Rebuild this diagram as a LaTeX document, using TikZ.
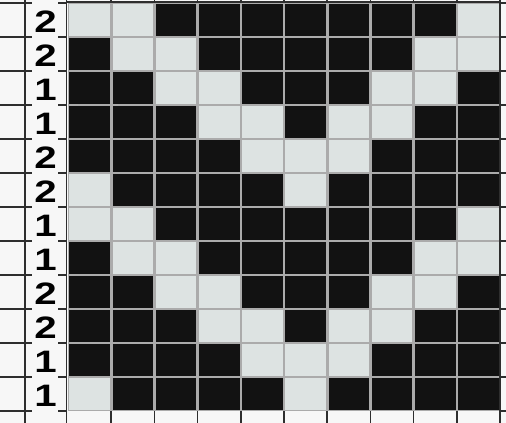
\documentclass[tikz,border=0pt]{standalone}
\usepackage{fontspec}
\setmainfont{Liberation Sans}
\definecolor{paper}{HTML}{F7F7F7}
\definecolor{pline}{HTML}{2E2E2E}
\definecolor{gapc}{HTML}{ABABAB}
\definecolor{darkcell}{HTML}{121212}
\definecolor{lightcell}{HTML}{DDE3E2}
\tikzset{
  paperline/.style={draw=pline, line width=1.7pt},
  lab/.style={inner sep=0pt, text height=22pt, text depth=0pt, font=\fontsize{31}{31}\selectfont\bfseries, xscale=1.3},
}
\begin{document}
\begin{tikzpicture}[x=1pt,y=-1pt]
\useasboundingbox (0,0) rectangle (506,423);
\fill[paper] (0,0) rectangle (506,423);
% paper grid lines
\draw[paperline] (25,0) -- (25,423);
\draw[paperline] (66.5,0) -- (66.5,423);
\foreach \i in {1,...,10} {
  \draw[paperline] ({68+43.2*\i},0) -- ({68+43.2*\i},423);
}
\foreach \j in {0,...,12} {
  \draw[paperline] (0,{3+34*\j}) -- (32,{3+34*\j});
  \draw[paperline] (58,{3+34*\j}) -- (67,{3+34*\j});
  \draw[paperline] (499,{3+34*\j}) -- (506,{3+34*\j});
}
\draw[paperline] (66.5,2) -- (499,2);
% grid area
\fill[gapc] (67.5,2.5) rectangle (499,411);
\foreach \row [count=\r from 0] in {
  {0,0,1,1,1,1,1,1,1,0},
  {1,0,0,1,1,1,1,1,0,0},
  {1,1,0,0,1,1,1,0,0,1},
  {1,1,1,0,0,1,0,0,1,1},
  {1,1,1,1,0,0,0,1,1,1},
  {0,1,1,1,1,0,1,1,1,1},
  {0,0,1,1,1,1,1,1,1,0},
  {1,0,0,1,1,1,1,1,0,0},
  {1,1,0,0,1,1,1,0,0,1},
  {1,1,1,0,0,1,0,0,1,1},
  {1,1,1,1,0,0,0,1,1,1},
  {0,1,1,1,1,0,1,1,1,1}} {
  \foreach \v [count=\c from 0] in \row {
    \ifnum\v=1 \def\cc{darkcell}\else\def\cc{lightcell}\fi
    \fill[\cc] ({68+43.2*\c+1.3},{3+34*\r+1.3}) rectangle ({68+43.2*(\c+1)-1.3},{3+34*(\r+1)-1.3});
  }
}
\draw[pline, line width=1.7pt] (499.5,0) -- (499.5,423);
% row labels
\foreach \t [count=\k] in {2,2,1,1,2,2,1,1,2,2,1,1} {
  \node[lab] (l\k) at (45.5,{3+34*(\k-1)+18.5}) {\t};
}
\end{tikzpicture}
\end{document}
